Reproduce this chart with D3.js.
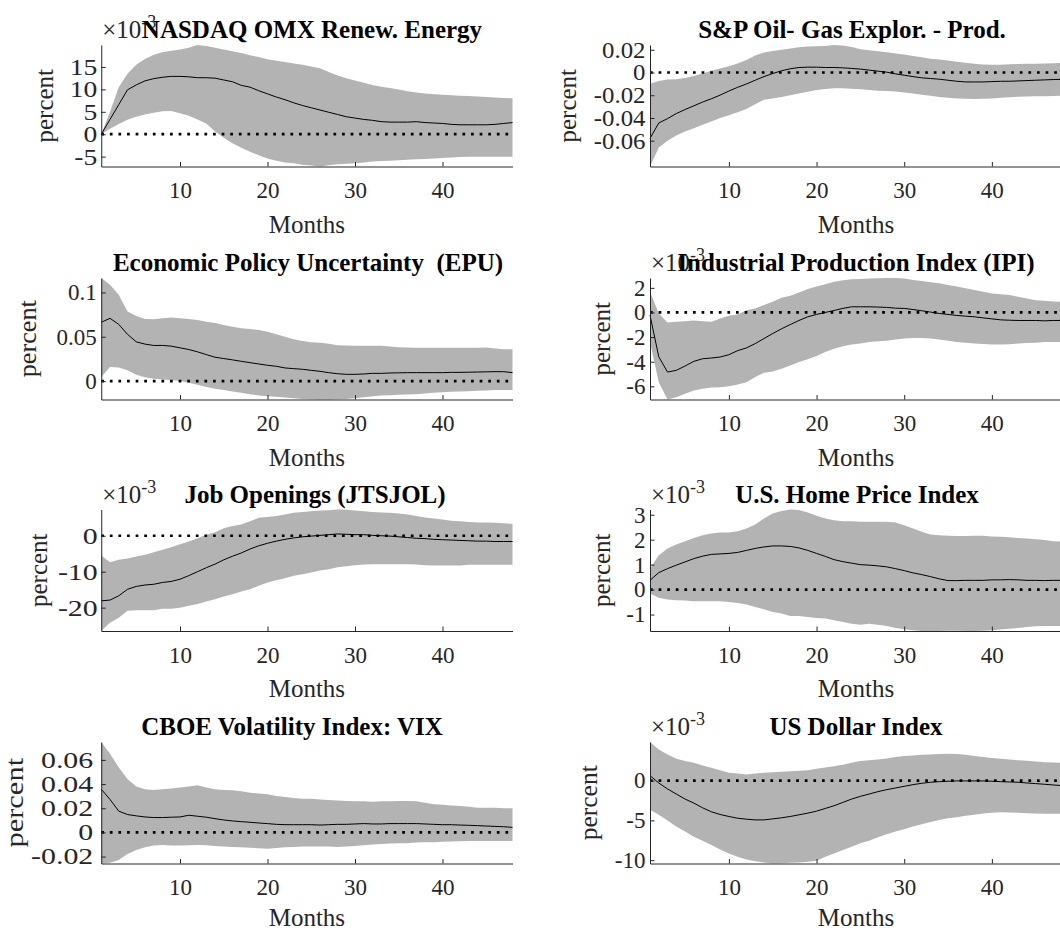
<!DOCTYPE html>
<meta charset="utf-8">
<head>
    <title>Impulse responses</title>
    <script src="https://cdn.jsdelivr.net/npm/d3@7"></script>
    <style>
        body { margin: 0; background: #ffffff; }
        svg { display: block; }
        text { font-family: "Liberation Serif", "Times New Roman", serif; }
    </style>
</head>
<body>
<svg width="1060" height="932"></svg>
<script>

// ---- data ----
var months = [1,2,3,4,5,6,7,8,9,10,11,12,13,14,15,16,17,18,19,20,21,22,23,24,
              25,26,27,28,29,30,31,32,33,34,35,36,37,38,39,40,41,42,43,44,45,46,47,48];
var xTicks = [10, 20, 30, 40];

var titles = ["NASDAQ OMX Renew. Energy", "S&P Oil- Gas Explor. - Prod.",
              "Economic Policy Uncertainty  (EPU)", "Industrial Production Index (IPI)",
              "Job Openings (JTSJOL)", "U.S. Home Price Index",
              "CBOE Volatility Index: VIX", "US Dollar Index"];

// exponent of the axis multiplier (null = none)
var exponents = [-3, null, null, -3, -3, -3, null, -3];

var yTicks = [
    [-5, 0, 5, 10, 15],
    [-0.06, -0.04, -0.02, 0, 0.02],
    [0, 0.05, 0.1],
    [-6, -4, -2, 0, 2],
    [-20, -10, 0],
    [-1, 0, 1, 2, 3],
    [-0.02, 0, 0.02, 0.04, 0.06],
    [-10, -5, 0]
];

var nasdaqLine  = [0,3.3,6.6,9.9,11.0,11.9,12.4,12.7,12.9,12.9,12.8,12.6,12.6,12.5,12.1,11.7,10.9,10.5,9.7,9.0,8.3,7.7,7.0,6.4,5.9,5.4,4.9,4.4,3.9,3.6,3.3,3.1,2.8,2.7,2.7,2.7,2.8,2.6,2.5,2.4,2.2,2.1,2.1,2.1,2.1,2.2,2.4,2.6];
var nasdaqUpper = [0,5.0,10.5,13.5,15.5,16.8,17.7,18.3,18.6,18.9,19.3,19.9,19.7,19.3,18.9,18.5,18.1,17.6,17.2,16.7,16.4,16.1,15.8,15.5,15.1,14.7,13.9,13.1,12.5,12.0,11.5,11.0,10.6,10.3,10.0,9.6,9.3,9.1,8.9,8.8,8.7,8.6,8.5,8.4,8.3,8.2,8.1,8.0];
var nasdaqLower = [0,1.2,2.3,3.2,3.9,4.4,4.8,5.1,5.2,4.7,4.1,3.3,2.4,0.6,-0.8,-2.0,-3.0,-3.9,-4.7,-5.4,-5.9,-6.3,-6.5,-6.8,-7.0,-7.2,-6.9,-6.7,-6.6,-6.5,-6.3,-6.1,-6.0,-5.9,-5.8,-5.7,-5.6,-5.5,-5.4,-5.3,-5.2,-5.1,-5.0,-5.0,-5.0,-5.0,-5.0,-5.0];

var oilLine  = [-0.058,-0.0444,-0.0406,-0.0361,-0.0326,-0.0293,-0.026,-0.0231,-0.0199,-0.0163,-0.013,-0.0101,-0.0068,-0.0036,-0.0009,0.0015,0.0033,0.0044,0.0047,0.0047,0.0044,0.0044,0.0041,0.0036,0.003,0.0021,0.0012,0.0003,-0.0012,-0.0024,-0.0036,-0.0047,-0.0053,-0.0059,-0.0068,-0.0077,-0.0083,-0.0083,-0.0083,-0.008,-0.0077,-0.0077,-0.0074,-0.0071,-0.0068,-0.0065,-0.0062,-0.006];
var oilUpper = [-0.010,-0.0075,-0.0062,-0.0059,-0.0048,-0.003,-0.0008,0.0015,0.0035,0.0055,0.008,0.011,0.015,0.0175,0.019,0.02,0.0212,0.0222,0.0228,0.0231,0.0234,0.0242,0.0238,0.0225,0.0205,0.0195,0.0187,0.0178,0.0168,0.0158,0.0145,0.0135,0.0122,0.0115,0.0105,0.0095,0.0085,0.0078,0.007,0.0068,0.0068,0.0072,0.0074,0.0076,0.0078,0.008,0.0082,0.0083];
var oilLower = [-0.0827,-0.066,-0.06,-0.0555,-0.052,-0.049,-0.046,-0.043,-0.04,-0.0375,-0.035,-0.032,-0.028,-0.024,-0.0228,-0.0215,-0.02,-0.0185,-0.017,-0.0155,-0.0145,-0.0139,-0.0139,-0.0142,-0.0148,-0.0154,-0.016,-0.0163,-0.0168,-0.0175,-0.0185,-0.0195,-0.0205,-0.0215,-0.0222,-0.0228,-0.0232,-0.0234,-0.0232,-0.0228,-0.0222,-0.0218,-0.0214,-0.0212,-0.021,-0.0208,-0.0206,-0.0204];

var epuLine  = [0.0663,0.0708,0.064,0.0527,0.0443,0.0417,0.0402,0.0402,0.0394,0.0375,0.0356,0.033,0.0299,0.0269,0.0254,0.0239,0.0223,0.0208,0.0193,0.0178,0.0167,0.0148,0.014,0.0133,0.0121,0.011,0.0095,0.0083,0.0076,0.0076,0.008,0.0087,0.0087,0.0091,0.0093,0.0095,0.0095,0.0095,0.0095,0.0095,0.0098,0.0098,0.01,0.0102,0.0104,0.0106,0.0106,0.0095];
var epuUpper = [0.1163,0.1087,0.0973,0.0784,0.0735,0.0701,0.0697,0.0708,0.0716,0.0708,0.0701,0.0689,0.067,0.0655,0.0633,0.0614,0.0595,0.0587,0.0576,0.0557,0.0527,0.05,0.0473,0.0451,0.0439,0.0432,0.042,0.0405,0.0402,0.0398,0.0398,0.0398,0.0398,0.039,0.0383,0.038,0.0375,0.0375,0.0375,0.0375,0.0375,0.0375,0.0375,0.0375,0.0378,0.0367,0.036,0.036];
var epuLower = [0.0045,0.0159,0.0152,0.0121,0.0072,0.0042,0.0027,0.0019,0.0011,0,-0.0019,-0.0042,-0.0068,-0.0087,-0.0102,-0.0117,-0.0133,-0.0148,-0.0163,-0.017,-0.0178,-0.0186,-0.0193,-0.0201,-0.0205,-0.0208,-0.0208,-0.0205,-0.0201,-0.0193,-0.0182,-0.017,-0.0163,-0.0159,-0.0155,-0.0152,-0.0148,-0.014,-0.0133,-0.0125,-0.0121,-0.0117,-0.0114,-0.011,-0.0106,-0.0102,-0.0102,-0.0102];

var ipiLine  = [-0.22,-3.6,-4.84,-4.7,-4.35,-3.97,-3.76,-3.7,-3.62,-3.43,-3.1,-2.88,-2.53,-2.12,-1.71,-1.33,-0.98,-0.65,-0.35,-0.16,0,0.16,0.33,0.46,0.46,0.46,0.44,0.41,0.35,0.33,0.24,0.14,0.03,-0.08,-0.16,-0.24,-0.3,-0.35,-0.44,-0.52,-0.6,-0.63,-0.65,-0.65,-0.65,-0.68,-0.65,-0.65];
var ipiUpper = [1.69,-0.08,-0.82,-0.76,-0.71,-0.65,-0.71,-0.76,-0.49,-0.27,-0.16,0.19,0.33,0.6,0.87,1.2,1.36,1.63,1.9,2.1,2.29,2.5,2.61,2.69,2.72,2.75,2.78,2.8,2.8,2.75,2.64,2.56,2.45,2.37,2.23,2.1,1.96,1.82,1.69,1.55,1.47,1.42,1.28,1.14,1.0,0.95,0.9,0.87];
var ipiLower = [-2.4,-5.66,-7.07,-6.88,-6.61,-6.34,-6.2,-6.1,-6.07,-5.99,-5.85,-5.66,-5.25,-4.9,-4.79,-4.57,-4.3,-4.03,-3.81,-3.54,-3.21,-2.94,-2.75,-2.61,-2.53,-2.39,-2.34,-2.29,-2.2,-2.12,-2.07,-2.07,-2.12,-2.2,-2.29,-2.39,-2.45,-2.53,-2.56,-2.61,-2.61,-2.58,-2.53,-2.48,-2.45,-2.39,-2.39,-2.39];

var jobsLine  = [-18.1,-17.9,-16.7,-14.9,-14.1,-13.7,-13.5,-13.0,-12.7,-12.1,-11.1,-10.0,-8.9,-7.9,-6.7,-5.7,-4.8,-3.7,-2.8,-2.1,-1.5,-1.0,-0.6,-0.3,-0.1,0.1,0.3,0.5,0.4,0.3,0.3,0.1,0,-0.1,-0.3,-0.5,-0.7,-0.8,-1.0,-1.1,-1.2,-1.3,-1.4,-1.5,-1.5,-1.6,-1.6,-1.6];
var jobsUpper = [-5.5,-7.4,-6.7,-6.3,-5.8,-5.3,-4.6,-3.9,-3.2,-2.4,-1.6,-0.7,0.3,1.0,2.1,2.7,3.1,4.0,5.0,5.2,5.5,5.9,6.4,6.6,6.8,7.0,7.1,7.3,7.2,7.0,6.8,6.6,6.5,6.4,6.2,5.9,5.5,5.1,4.8,4.5,4.2,4.0,3.8,3.7,3.7,3.6,3.5,3.3];
var jobsLower = [-26.5,-24.2,-22.8,-20.9,-20.7,-20.7,-20.7,-20.3,-20.3,-20.0,-19.5,-19.0,-18.3,-17.7,-16.9,-16.3,-15.5,-14.9,-13.9,-13.0,-12.4,-11.8,-11.1,-10.7,-10.2,-9.7,-9.3,-8.8,-8.5,-8.2,-8.0,-7.9,-7.9,-7.9,-7.9,-7.9,-8.0,-8.2,-8.3,-8.3,-8.3,-8.3,-8.1,-8.1,-8.1,-8.1,-8.1,-8.1];

var homeLine  = [0.37,0.68,0.84,0.98,1.11,1.24,1.34,1.41,1.43,1.45,1.49,1.57,1.65,1.71,1.75,1.75,1.73,1.67,1.57,1.45,1.33,1.2,1.12,1.06,1.0,0.98,0.95,0.91,0.84,0.76,0.67,0.6,0.52,0.43,0.36,0.36,0.37,0.37,0.37,0.39,0.39,0.4,0.39,0.37,0.37,0.36,0.37,0.37];
var homeUpper = [0.84,1.38,1.65,1.81,1.94,2.07,2.18,2.25,2.29,2.29,2.34,2.45,2.61,2.85,3.05,3.15,3.21,3.19,3.09,2.96,2.85,2.78,2.74,2.74,2.72,2.72,2.72,2.72,2.69,2.58,2.45,2.32,2.21,2.18,2.16,2.15,2.15,2.16,2.16,2.13,2.12,2.1,2.07,2.05,2.02,1.99,1.94,1.92];
var homeLower = [-0.16,-0.33,-0.4,-0.43,-0.44,-0.47,-0.47,-0.47,-0.47,-0.5,-0.54,-0.6,-0.7,-0.79,-0.9,-0.96,-1.06,-1.06,-1.1,-1.14,-1.16,-1.23,-1.3,-1.37,-1.41,-1.37,-1.41,-1.46,-1.54,-1.59,-1.63,-1.66,-1.66,-1.66,-1.65,-1.65,-1.66,-1.66,-1.65,-1.63,-1.6,-1.57,-1.54,-1.5,-1.47,-1.46,-1.46,-1.46];

var vixLine  = [0.0357,0.0273,0.0176,0.0148,0.0137,0.0128,0.0123,0.0123,0.0126,0.0128,0.0142,0.0134,0.0126,0.0114,0.0103,0.0095,0.0089,0.0084,0.0078,0.0073,0.0067,0.0064,0.0064,0.0064,0.0064,0.0061,0.0064,0.0067,0.0067,0.007,0.0073,0.007,0.007,0.0073,0.0073,0.0073,0.0073,0.007,0.0067,0.0064,0.0064,0.0061,0.0059,0.0056,0.0053,0.005,0.0047,0.0042];
var vixUpper = [0.0748,0.065,0.0538,0.0441,0.0379,0.0357,0.0351,0.0357,0.0363,0.0371,0.0379,0.039,0.0371,0.0357,0.0351,0.0349,0.034,0.0329,0.0321,0.0315,0.0301,0.0293,0.0285,0.0279,0.0279,0.0273,0.0268,0.0265,0.0259,0.0257,0.0257,0.0254,0.0257,0.0257,0.0259,0.0259,0.0257,0.0245,0.0234,0.0229,0.0223,0.0218,0.0212,0.0204,0.0204,0.0204,0.0201,0.0201];
var vixLower = [-0.0257,-0.0251,-0.0229,-0.0179,-0.0145,-0.0123,-0.0109,-0.0103,-0.0109,-0.0109,-0.0106,-0.0103,-0.0106,-0.0112,-0.0117,-0.012,-0.0123,-0.0126,-0.0131,-0.0134,-0.0128,-0.0123,-0.012,-0.0117,-0.0117,-0.0117,-0.0117,-0.012,-0.0117,-0.0112,-0.0106,-0.01,-0.0095,-0.0092,-0.0089,-0.0089,-0.0084,-0.0081,-0.0081,-0.0078,-0.0075,-0.0072,-0.007,-0.007,-0.007,-0.007,-0.007,-0.007];

var usdLine  = [0.63,-0.3,-1.05,-1.69,-2.32,-2.83,-3.42,-3.92,-4.26,-4.51,-4.73,-4.85,-4.94,-4.94,-4.81,-4.68,-4.51,-4.3,-4.09,-3.84,-3.5,-3.16,-2.74,-2.32,-1.98,-1.69,-1.39,-1.14,-0.93,-0.72,-0.51,-0.34,-0.21,-0.13,-0.08,-0.04,-0.04,-0.04,-0.04,-0.08,-0.13,-0.17,-0.21,-0.3,-0.38,-0.46,-0.55,-0.63];
var usdUpper = [4.85,3.92,3.29,2.74,2.45,2.24,1.9,1.6,1.31,0.97,0.89,0.76,0.89,0.97,1.05,1.1,1.18,1.24,1.31,1.48,1.65,1.81,1.98,2.24,2.45,2.57,2.66,2.78,2.95,3.08,3.16,3.25,3.29,3.33,3.37,3.33,3.25,3.08,2.95,2.83,2.74,2.66,2.57,2.49,2.4,2.32,2.28,2.24];
var usdLower = [-3.67,-4.3,-5.02,-5.78,-6.41,-7.05,-7.55,-8.1,-8.65,-9.16,-9.58,-9.92,-10.13,-10.3,-10.42,-10.38,-10.34,-10.3,-10.21,-10.08,-9.58,-9.16,-8.73,-8.31,-7.89,-7.55,-7.13,-6.75,-6.41,-6.12,-5.78,-5.49,-5.19,-4.94,-4.73,-4.6,-4.43,-4.3,-4.14,-4.03,-3.97,-4.01,-4.05,-4.09,-4.14,-4.18,-4.18,-4.18];

var lines  = [nasdaqLine, oilLine, epuLine, ipiLine, jobsLine, homeLine, vixLine, usdLine];
var uppers = [nasdaqUpper, oilUpper, epuUpper, ipiUpper, jobsUpper, homeUpper, vixUpper, usdUpper];
var lowers = [nasdaqLower, oilLower, epuLower, ipiLower, jobsLower, homeLower, vixLower, usdLower];

// ---- layout ----
var colLeft  = [101.25, 650];
var colRight = [512.5, 1062];
var rowTop   = [45, 278, 509.5, 742];
var plotH    = 121.5;
var monthsDy = [66, 66, 66, 62];
var titleX   = [312, 852, 308, 856, 315, 857, 292, 856];
var ylabX    = [53, 576, 36, 610, 47, 610, 23, 597];
// some panels set their y tick texts wider in the original
var tickStretch = [1.2, 1.08, 1, 1, 1.3, 1, 1.3, 1];
var tickPad     = [4, 4.5, 4.5, 4.5, 3.5, 4.5, 8, 4.5];
var labStretch  = [1, 1, 1.05, 1, 1, 1, 1.22, 1.02];

var font = '"Liberation Serif", "Times New Roman", serif';
var axisColor = "#262626";
var bandColor = "#b3b3b3";

var svg = d3.select("svg");
svg.append("rect").attr("width", 1060).attr("height", 932).attr("fill", "#ffffff");

function drawPanel(i) {
    var col = i % 2, row = Math.floor(i / 2);
    var left = colLeft[col], right = colRight[col];
    var top = rowTop[row], bottom = top + plotH;

    var x = d3.scaleLinear().domain([1, 48]).range([left, right]);
    var y = d3.scaleLinear()
        .domain([d3.min(lowers[i]), d3.max(uppers[i])])
        .range([bottom, top]);

    var pts = months.map(function(m, k) {
        return {m: m, v: lines[i][k], lo: lowers[i][k], hi: uppers[i][k]};
    });

    var g = svg.append("g");

    // confidence band
    g.append("path")
        .datum(pts)
        .attr("fill", bandColor)
        .attr("d", d3.area()
            .x(function(d) { return x(d.m); })
            .y0(function(d) { return y(d.lo); })
            .y1(function(d) { return y(d.hi); }));

    // zero line
    g.append("line")
        .attr("x1", x(1)).attr("x2", x(48))
        .attr("y1", y(0)).attr("y2", y(0))
        .attr("stroke", "#000")
        .attr("stroke-width", 2.7)
        .attr("stroke-dasharray", "2.7 5.9");

    // median response
    g.append("path")
        .datum(pts)
        .attr("fill", "none")
        .attr("stroke", "#000")
        .attr("stroke-width", 1)
        .attr("d", d3.line()
            .x(function(d) { return x(d.m); })
            .y(function(d) { return y(d.v); }));

    // axes
    var fmt = function(d) { return String(d); };
    var ax = g.append("g")
        .attr("transform", "translate(0," + bottom + ")")
        .call(d3.axisBottom(x).tickValues(xTicks).tickFormat(fmt)
            .tickSizeInner(-4.5).tickSizeOuter(0).tickPadding(15.5));
    var ay = g.append("g")
        .attr("transform", "translate(" + left + ",0)")
        .call(d3.axisLeft(y).tickValues(yTicks[i]).tickFormat(fmt)
            .tickSizeInner(-4.5).tickSizeOuter(0).tickPadding(tickPad[i]));
    [ax, ay].forEach(function(a) {
        a.attr("font-family", font).attr("font-size", 23);
        a.selectAll("path, line").attr("stroke", axisColor).attr("stroke-width", 1);
        a.selectAll("text").attr("fill", axisColor);
    });
    ay.selectAll("text")
        .attr("x", -tickPad[i] / tickStretch[i])
        .attr("transform", "scale(" + tickStretch[i] + ",1)");

    // axis labels
    g.append("text")
        .attr("x", (left + right) / 2)
        .attr("y", bottom + monthsDy[row])
        .attr("text-anchor", "middle")
        .attr("font-size", 25)
        .attr("fill", axisColor)
        .text("Months");

    g.append("text")
        .attr("transform", "translate(" + ylabX[i] + "," + (top + plotH / 2) + ") rotate(-90) scale(" + labStretch[i] + ",1)")
        .attr("text-anchor", "middle")
        .attr("font-size", 25)
        .attr("fill", axisColor)
        .text("percent");

    // axis multiplier
    if (exponents[i] !== null) {
        var ex = g.append("text")
            .attr("x", left + 1)
            .attr("y", top - 7)
            .attr("font-size", 25)
            .attr("fill", axisColor);
        ex.append("tspan").text("\u00d710");
        ex.append("tspan").attr("dy", -10).attr("font-size", 18).text(String(exponents[i]));
    }

    // title
    g.append("text")
        .attr("x", titleX[i])
        .attr("y", top - 7)
        .attr("text-anchor", "middle")
        .attr("font-size", 25)
        .attr("font-weight", "bold")
        .attr("fill", "#000")
        .style("white-space", "pre")
        .text(titles[i]);
}

for (var i = 0; i < 8; i++) drawPanel(i);
</script>
</body>
